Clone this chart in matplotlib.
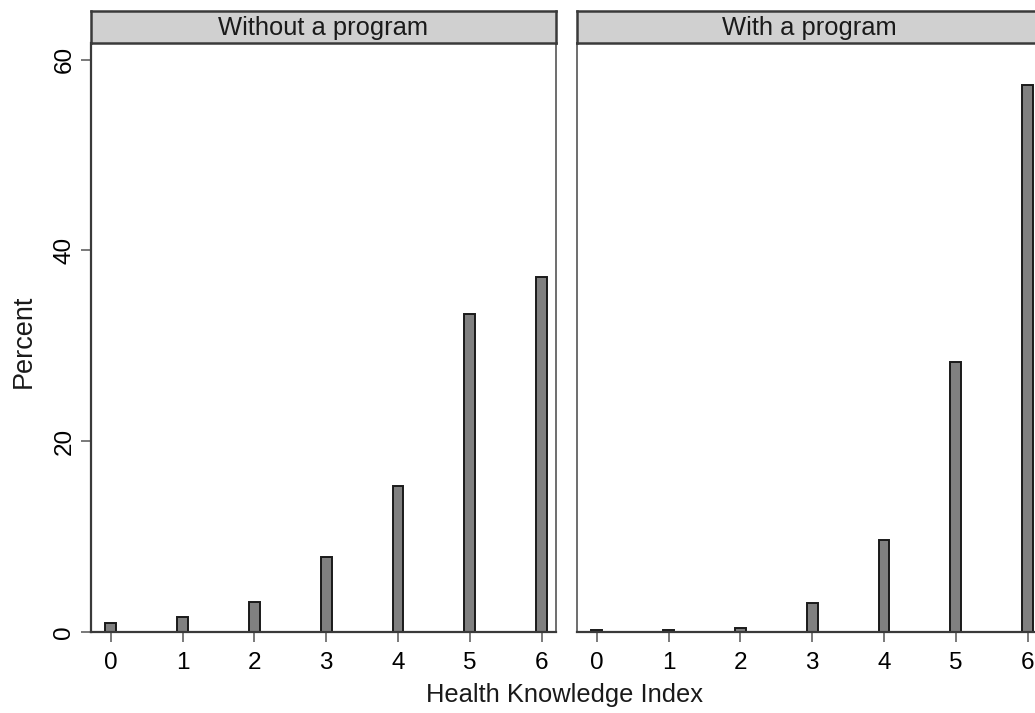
import matplotlib.pyplot as plt
import numpy as np

plt.rcParams['font.family'] = ['Liberation Sans', 'DejaVu Sans']

# Percent of respondents at each Health Knowledge Index score
scores = [0, 1, 2, 3, 4, 5, 6]
pct_without = [1.0, 1.6, 3.2, 7.9, 15.3, 33.3, 37.2]
pct_with = [0.2, 0.2, 0.4, 3.1, 9.7, 28.3, 57.3]
panel_titles = ['Without a program', 'With a program']
yticks = [0, 20, 40, 60]

W, H = 1035, 713
fig = plt.figure(figsize=(W / 100, H / 100), dpi=100)

frame_col = '#3a3a3a'
ax_bottom = 1 - 632.3 / H
ax_height = (632.3 - 43.3) / H
ax_width = 465.3 / W
lefts = [90.7 / W, 576.7 / W]

for i, (vals, title) in enumerate(zip([pct_without, pct_with], panel_titles)):
    ax = fig.add_axes([lefts[i], ax_bottom, ax_width, ax_height])
    ax.bar(scores, vals, width=0.15, color='#808080', edgecolor='#1a1a1a', linewidth=1.4)
    ax.set_xlim(-0.28, 6.2)
    ax.set_ylim(0, 61.7)
    ax.set_xticks(scores)
    ax.tick_params(axis='x', length=7, width=1.1, color='#555555', pad=7, labelsize=17.5)
    for s in ax.spines.values():
        s.set_color('#555555')
        s.set_linewidth(1.2)
    ax.spines['bottom'].set_color(frame_col)
    ax.spines['bottom'].set_linewidth(1.6)
    if i == 0:
        ax.set_yticks(yticks)
        ax.set_yticklabels([str(t) for t in yticks], rotation=90, va='center')
        ax.tick_params(axis='y', length=7.5, width=1.1, color='#555555', pad=3.5, labelsize=17.5)
        ax.spines['left'].set_color(frame_col)
        ax.spines['left'].set_linewidth(1.6)
    else:
        ax.set_yticks([])

    # grey strip header above each panel
    hx = fig.add_axes([lefts[i], 1 - 43.3 / H, ax_width, 32.3 / H])
    hx.set_facecolor('#d0d0d0')
    hx.set_xticks([])
    hx.set_yticks([])
    for s in hx.spines.values():
        s.set_color(frame_col)
        s.set_linewidth(1.8)
    hx.text(0.5, 0.48, title, ha='center', va='center', fontsize=18.4, color='#1a1a1a',
            transform=hx.transAxes)

fig.text(564 / W, 1 - 695 / H, 'Health Knowledge Index', ha='center', va='center',
         fontsize=18.4, color='#1a1a1a')
fig.text(24 / W, 1 - 341.7 / H, 'Percent', ha='center', va='center', rotation=90,
         fontsize=19.5, color='#1a1a1a')

fig.savefig('out.png', dpi=100)
